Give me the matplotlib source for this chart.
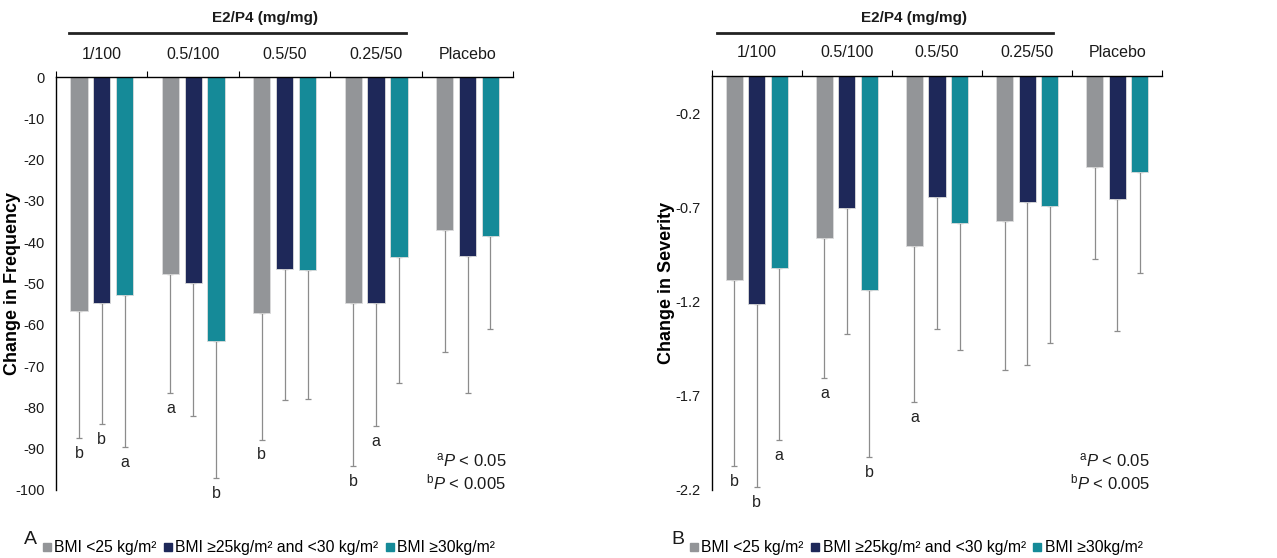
import matplotlib.pyplot as plt
import matplotlib.transforms as mtransforms
from matplotlib.lines import Line2D
import numpy as np

plt.rcParams['font.family'] = ['Liberation Sans', 'DejaVu Sans']
plt.rcParams['axes.unicode_minus'] = False
plt.rcParams['mathtext.fontset'] = 'custom'
plt.rcParams['mathtext.rm'] = 'Liberation Sans'
plt.rcParams['mathtext.it'] = 'Liberation Sans:italic'

groups = ["1/100", "0.5/100", "0.5/50", "0.25/50", "Placebo"]
series = ["BMI <25 kg/m²", "BMI ≥25kg/m² and <30 kg/m²", "BMI ≥30kg/m²"]
colors = ["#939598", "#1E2859", "#158A98"]

# panel A: change in frequency (bar value, lower end of error bar)
freq_mean = [[-56.7, -47.8, -57.2, -54.7, -37.0],
             [-54.8, -49.8, -46.5, -54.7, -43.4],
             [-52.7, -63.8, -46.8, -43.6, -38.5]]
freq_low = [[-87.4, -76.6, -87.8, -94.2, -66.6],
            [-84.1, -82.0, -78.3, -84.5, -76.4],
            [-89.7, -97.1, -78.0, -74.2, -60.9]]
freq_sig = [["b", "a", "b", "b", ""],
            ["b", "", "", "a", ""],
            ["a", "b", "", "", ""]]

# panel B: change in severity
sev_mean = [[-1.083, -0.862, -0.903, -0.772, -0.483],
            [-1.212, -0.703, -0.643, -0.671, -0.654],
            [-1.021, -1.141, -0.783, -0.693, -0.513]]
sev_low = [[-2.074, -1.608, -1.735, -1.564, -0.974],
           [-2.184, -1.373, -1.343, -1.535, -1.357],
           [-1.936, -2.025, -1.456, -1.421, -1.048]]
sev_sig = [["b", "a", "a", "", ""],
           ["b", "", "", "", ""],
           ["a", "b", "", "", ""]]

freq_ticks = [0, -10, -20, -30, -40, -50, -60, -70, -80, -90, -100]
sev_ticks = [-0.2, -0.7, -1.2, -1.7, -2.2]

fig = plt.figure(figsize=(12.77, 5.58), dpi=100)
axA = fig.add_axes([0.0439, 0.1219, 0.358, 0.740])
axB = fig.add_axes([0.5573, 0.1219, 0.3529, 0.7427])


def draw(ax, means, lows, sigs, ylim, yticks, ylabel, header_x, line_x,
         ptext_x):
    x = np.arange(len(groups))
    offs = [-0.25, 0, 0.25]
    for i in range(3):
        m = np.array(means[i])
        lo = np.array(lows[i])
        ax.bar(x + offs[i], m, width=0.19, color=colors[i],
               edgecolor='#dcdcdc', linewidth=0.6, zorder=2)
        ax.errorbar(x + offs[i], m, yerr=[m - lo, np.zeros_like(m)],
                    fmt='none', ecolor='#8c8c8c', elinewidth=0.9,
                    capsize=2.2, capthick=0.9, zorder=1)
        for j, s in enumerate(sigs[i]):
            if s:
                ax.annotate(s, (x[j] + offs[i], lo[j]), xytext=(0, -11),
                            textcoords='offset points', ha='center',
                            va='center', fontsize=11.5, color='#222222')
    ax.set_xlim(-0.5, 4.5)
    ax.set_ylim(*ylim)
    ax.set_yticks(yticks)
    ax.tick_params(axis='y', length=0, pad=8, labelsize=10.5,
                   labelcolor='#1a1a1a')
    ax.xaxis.tick_top()
    ax.set_xticks(x)
    ax.set_xticklabels(groups)
    ax.set_xticks(np.arange(-0.5, 5, 1), minor=True)
    ax.tick_params(axis='x', which='major', length=0, pad=11,
                   labelsize=11.5, labelcolor='#1a1a1a')
    ax.tick_params(axis='x', which='minor', length=4, width=0.8,
                   direction='out', top=True, bottom=False)
    for sp in ['bottom', 'right']:
        ax.spines[sp].set_visible(False)
    ax.spines['top'].set_linewidth(1.0)
    ax.spines['left'].set_linewidth(1.0)
    ax.set_ylabel(ylabel, fontsize=13, fontweight='bold')

    # header line + label above the active-treatment groups
    tr = mtransforms.blended_transform_factory(ax.transData, fig.transFigure)
    ax.plot(line_x, [1 - 33 / 558, 1 - 33 / 558], transform=tr,
            color='#222222', lw=2.0, clip_on=False)
    ax.text(header_x, 1 - 18 / 558, "E2/P4 (mg/mg)", transform=tr,
            ha='center', va='center', fontsize=11, fontweight='bold',
            color='#1a1a1a')

    ax.text(ptext_x, 0.072, r'$^{\mathrm{a}}\mathit{P}$ < 0.05',
            transform=ax.transAxes, ha='right', va='center', fontsize=12,
            color='#1a1a1a')
    ax.text(ptext_x, 0.018, r'$^{\mathrm{b}}\mathit{P}$ < 0.005',
            transform=ax.transAxes, ha='right', va='center', fontsize=12,
            color='#1a1a1a')


draw(axA, freq_mean, freq_low, freq_sig, (-100, 0), freq_ticks,
     "Change in Frequency", 1.79, [-0.36, 3.33], 0.985)
draw(axB, sev_mean, sev_low, sev_sig, (-2.2, 0), sev_ticks,
     "Change in Severity", 1.75, [-0.44, 3.29], 0.972)
axB.set_yticklabels([f"{t:.1f}" for t in sev_ticks])
axA.yaxis.set_label_coords(-0.077, 0.5)
axB.yaxis.set_label_coords(-0.082, 0.5)

handles = [Line2D([], [], marker='s', linestyle='none', markersize=6,
                  color=c) for c in colors]
for letter, lx, legx in [("A", 0.024, 0.025), ("B", 0.531, 0.532)]:
    fig.text(lx, 0.018, letter, fontsize=14, color='#1a1a1a',
             ha='center', va='bottom')
    fig.legend(handles, series, loc='lower left',
               bbox_to_anchor=(legx, -0.012), ncol=3, frameon=False,
               fontsize=11.3, handletextpad=0.1, columnspacing=0.4,
               handlelength=0.7, borderaxespad=0.2)

fig.savefig("out.png", dpi=100)
